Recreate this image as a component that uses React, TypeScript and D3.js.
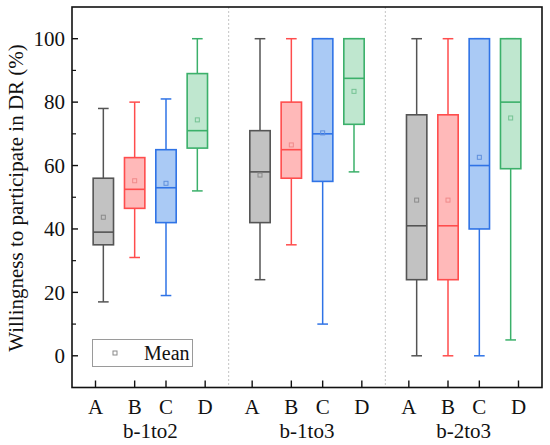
import React from "react";
import * as d3 from "d3";

// groups and categories
const groups = ["b-1to2", "b-1to3", "b-2to3"];
const categories = ["A", "B", "C", "D"];

// box statistics, ordered group by group (A, B, C, D)
const lows = [17, 31, 19, 52, 24, 35, 10, 58, 0, 0, 0, 5];
const q1s = [35, 46.5, 42, 65.5, 42, 56, 55, 73, 24, 24, 40, 59];
const medians = [39, 52.5, 53, 71, 58, 65, 70, 87.5, 41, 41, 60, 80];
const q3s = [56, 62.5, 65, 89, 71, 80, 100, 100, 76, 76, 100, 100];
const highs = [78, 80, 81, 100, 100, 100, 100, 100, 100, 100, 100, 100];
const means = [43.7, 55.2, 54.4, 74.4, 57, 66.5, 70.3, 83.4, 49.1, 49.1, 62.6, 75];

const yTicks = [0, 20, 40, 60, 80, 100];
const yMinorTicks = [10, 30, 50, 70, 90];

const palette = [
  { stroke: "#545454", fill: "#c2c2c2", mean: "#8a8a8a" },
  { stroke: "#ff4d4d", fill: "#ffb9b9", mean: "#f08a8a" },
  { stroke: "#2f73e6", fill: "#aacaf5", mean: "#5f8fdc" },
  { stroke: "#3bb06a", fill: "#bfe7cf", mean: "#74c293" },
];

const tickOffsets = [-0.25, 0, 0, 0.25];

export default function App() {
  const width = 550;
  const height = 445;
  const left = 72;
  const right = 542;
  const top = 7;
  const bottom = 387.5;

  const x = d3.scaleLinear().domain([0, 15]).range([left, right]);
  const y = d3.scaleLinear().domain([-10, 110]).range([bottom, top]);

  const boxW = x(0.65) - x(0);
  const capW = x(0.34) - x(0);
  const font = "'Liberation Serif', 'Times New Roman', serif";

  const pos = (i: number) => Math.floor(i / 4) * 5 + (i % 4) + 1;

  return (
    <svg width={width} height={height} style={{ position: "absolute", left: 0, top: 0 }} fontFamily={font}>
      <rect x={0} y={0} width={width} height={height} fill="#fff" />

      {/* group separators */}
      {[5, 10].map((s) => (
        <line key={s} x1={x(s)} x2={x(s)} y1={top} y2={bottom} stroke="#c4c4c4" strokeWidth={1} strokeDasharray="2 2" />
      ))}

      {/* boxes */}
      {lows.map((_, i) => {
        const c = palette[i % 4];
        const cx = x(pos(i));
        return (
          <g key={i}>
            <line x1={cx} x2={cx} y1={y(highs[i])} y2={y(q3s[i])} stroke={c.stroke} strokeWidth={1.5} />
            <line x1={cx} x2={cx} y1={y(q1s[i])} y2={y(lows[i])} stroke={c.stroke} strokeWidth={1.5} />
            <line x1={cx - capW / 2} x2={cx + capW / 2} y1={y(highs[i])} y2={y(highs[i])} stroke={c.stroke} strokeWidth={1.5} />
            <line x1={cx - capW / 2} x2={cx + capW / 2} y1={y(lows[i])} y2={y(lows[i])} stroke={c.stroke} strokeWidth={1.5} />
            <rect
              x={cx - boxW / 2}
              y={y(q3s[i])}
              width={boxW}
              height={y(q1s[i]) - y(q3s[i])}
              fill={c.fill}
              stroke={c.stroke}
              strokeWidth={1.6}
            />
            <line x1={cx - boxW / 2} x2={cx + boxW / 2} y1={y(medians[i])} y2={y(medians[i])} stroke={c.stroke} strokeWidth={1.6} />
            <rect x={cx - 2} y={y(means[i]) - 2} width={4} height={4} fill="none" stroke={c.mean} strokeWidth={1} />
          </g>
        );
      })}

      {/* frame */}
      <rect x={left} y={top} width={right - left} height={bottom - top} fill="none" stroke="#111" strokeWidth={1.6} />

      {/* y axis */}
      {yTicks.map((t) => (
        <g key={t}>
          <line x1={left} x2={left + 6} y1={y(t)} y2={y(t)} stroke="#111" strokeWidth={1.4} />
          <text x={left - 7} y={y(t)} dy="0.35em" textAnchor="end" fontSize={21} fill="#111">
            {t}
          </text>
        </g>
      ))}
      {yMinorTicks.map((t) => (
        <line key={t} x1={left} x2={left + 4} y1={y(t)} y2={y(t)} stroke="#111" strokeWidth={1.2} />
      ))}
      <text
        transform={`translate(23, 198) rotate(-90)`}
        textAnchor="middle"
        fontSize={21}
        fill="#111"
      >
        Willingness to participate in DR  (%)
      </text>

      {/* x axis */}
      {groups.map((g, gi) => (
        <g key={g}>
          {categories.map((c, ci) => {
            const tx = x(gi * 5 + ci + 1 + tickOffsets[ci]);
            return (
              <g key={c}>
                <line x1={tx} x2={tx} y1={bottom} y2={bottom - 7} stroke="#111" strokeWidth={1.4} />
                <text x={tx} y={413.5} textAnchor="middle" fontSize={21} fill="#111">
                  {c}
                </text>
              </g>
            );
          })}
          <text x={x(gi * 5 + 2.5)} y={438} textAnchor="middle" fontSize={21} fill="#111">
            {g}
          </text>
        </g>
      ))}

      {/* legend */}
      <rect x={92.5} y={339.5} width={100} height={27} fill="#fff" stroke="#9a9a9a" strokeWidth={1} />
      <rect x={113} y={351} width={4} height={4} fill="none" stroke="#8a8a8a" strokeWidth={1} />
      <text x={144} y={360} fontSize={20} fill="#111">
        Mean
      </text>
    </svg>
  );
}
